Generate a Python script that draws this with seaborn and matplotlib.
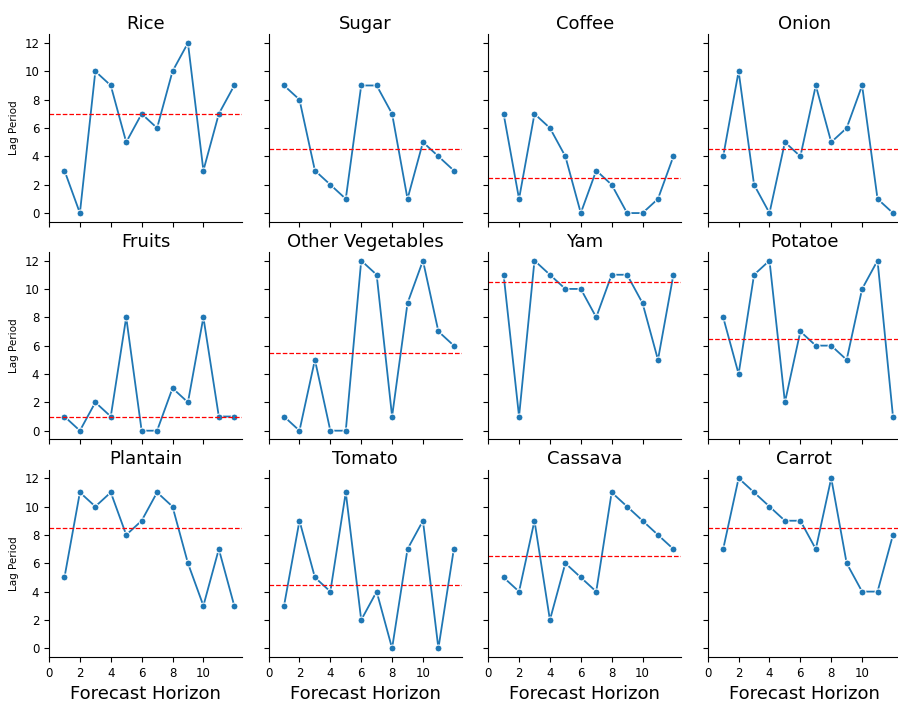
import numpy as np
import pandas as pd
import matplotlib
matplotlib.use("Agg")
import matplotlib.pyplot as plt
import seaborn as sns

# Forecast horizons (months ahead)
horizon = [1, 2, 3, 4, 5, 6, 7, 8, 9, 10, 11, 12]

# Selected lag period for each commodity and horizon
rice = [3, 0, 10, 9, 5, 7, 6, 10, 12, 3, 7, 9]
sugar = [9, 8, 3, 2, 1, 9, 9, 7, 1, 5, 4, 3]
coffee = [7, 1, 7, 6, 4, 0, 3, 2, 0, 0, 1, 4]
onion = [4, 10, 2, 0, 5, 4, 9, 5, 6, 9, 1, 0]
fruits = [1, 0, 2, 1, 8, 0, 0, 3, 2, 8, 1, 1]
other_vegetables = [1, 0, 5, 0, 0, 12, 11, 1, 9, 12, 7, 6]
yam = [11, 1, 12, 11, 10, 10, 8, 11, 11, 9, 5, 11]
potatoe = [8, 4, 11, 12, 2, 7, 6, 6, 5, 10, 12, 1]
plantain = [5, 11, 10, 11, 8, 9, 11, 10, 6, 3, 7, 3]
tomato = [3, 9, 5, 4, 11, 2, 4, 0, 7, 9, 0, 7]
cassava = [5, 4, 9, 2, 6, 5, 4, 11, 10, 9, 8, 7]
carrot = [7, 12, 11, 10, 9, 9, 7, 12, 6, 4, 4, 8]

commodities = ["Rice", "Sugar", "Coffee", "Onion",
               "Fruits", "Other Vegetables", "Yam", "Potatoe",
               "Plantain", "Tomato", "Cassava", "Carrot"]
series = [rice, sugar, coffee, onion,
          fruits, other_vegetables, yam, potatoe,
          plantain, tomato, cassava, carrot]

df = pd.concat(
    [pd.DataFrame({"Commodity": name, "Horizon": horizon, "Lag": vals})
     for name, vals in zip(commodities, series)],
    ignore_index=True,
)

plt.rcParams["font.family"] = ["DejaVu Sans"]

fig, axes = plt.subplots(3, 4, figsize=(8.98, 7.03), dpi=100,
                         sharex=True, sharey=True)
fig.subplots_adjust(left=0.0546, right=1.003, top=0.951, bottom=0.0657,
                    wspace=0.138, hspace=0.163)

for ax, name in zip(axes.flat, commodities):
    sub = df[df["Commodity"] == name]
    sns.lineplot(data=sub, x="Horizon", y="Lag", marker="o", markersize=5,
                 color="#1f77b4", linewidth=1.3, ax=ax)
    ax.axhline(np.median(sub["Lag"]), color="red", linestyle="--", linewidth=0.9)
    ax.set_title(name, fontsize=13, pad=4)
    ax.set_xlabel("")
    ax.set_ylabel("")
    ax.tick_params(labelsize=8.5, length=3.5, width=0.8)
    for s in ("left", "bottom"):
        ax.spines[s].set_linewidth(0.8)
    sns.despine(ax=ax)

axes[0, 0].set_xlim(0, 12.5)
axes[0, 0].set_ylim(-0.6, 12.6)
axes[0, 0].set_xticks(np.arange(0, 12, 2))
axes[0, 0].set_yticks(np.arange(0, 13, 2))

for ax in axes[:, 0]:
    ax.set_ylabel("Lag Period", fontsize=7.5)
for ax in axes[-1, :]:
    ax.set_xlabel("Forecast Horizon", fontsize=13)

fig.savefig("out.png", dpi=100)
